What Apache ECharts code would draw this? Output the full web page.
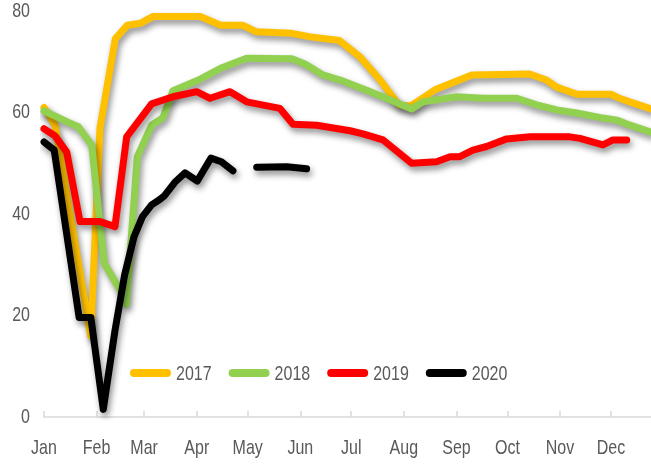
<!DOCTYPE html>
<html>
<head>
<meta charset="utf-8">
<script src="https://cdn.jsdelivr.net/npm/echarts@6/dist/echarts.min.js"></script>
<style>html,body{margin:0;padding:0;background:#fff}#c{width:651px;height:473px}</style>
</head>
<body>
<div id="c"></div>
<script>
// x = day of year (0 = Jan 1), y = value
const monthLabels = ['Jan','Feb','Mar','Apr','May','Jun','Jul','Aug','Sep','Oct','Nov','Dec'];
const monthStartDays = [0,31,59,90,120,151,181,212,243,273,304,334];
const yTicks = [0,20,40,60,80];

const s2017 = [[0,61],[6.5,57.5],[27.5,16],[33,57],[42,74.5],[49,77.2],[57,77.6],[64,78.9],[92,78.9],[104,77.2],[117,77.2],[125,75.9],[146,75.6],[157,74.9],[174,74.2],[186,71],[198,66.4],[209,61.5],[216,61.3],[231,64.6],[252,67.4],[286,67.6],[296,66.4],[302,65],[314,63.6],[334,63.6],[339,62.8],[345,62.1],[357.6,60.7]];
const s2018 = [[0,60.3],[13.4,58.2],[20.2,57.2],[28.1,53.6],[35.5,30.3],[44.8,25],[48.5,22.2],[55,51.3],[63.4,57.5],[70.1,59],[76,64.3],[91,66.4],[104,68.7],[119.4,70.7],[146,70.6],[154,69.5],[164.3,67.4],[174.4,66.4],[190,64.4],[203.8,62.5],[216.6,60.7],[223.3,62.1],[243.1,63.1],[258.6,62.8],[278.5,62.8],[290.2,61.5],[302,60.5],[313.8,59.9],[329.3,58.9],[337.4,58.5],[345.2,57.5],[357.6,56.1]];
const s2019 = [[0,56.8],[6.5,55.4],[13.4,52.2],[21.2,38.5],[33,38.5],[41.8,37.5],[48.7,55.2],[63.4,61.7],[76,63.1],[90,64.1],[97.8,62.8],[109.6,64.1],[119.4,62.1],[139,60.8],[146.7,57.7],[160.6,57.5],[180.3,56.4],[187.9,55.8],[199.7,54.6],[216.6,50],[231.3,50.3],[239.2,51.3],[245,51.3],[252.7,52.6],[260.8,53.3],[272.6,54.8],[286.3,55.2],[309.8,55.2],[315.7,54.9],[329.3,53.6],[335.2,54.6],[343.3,54.6]];
const s2020 = [[0,54.2],[6,52.6],[20.7,19.6],[27.6,19.6],[34.9,1.5],[41.8,17],[47.5,28],[53,35.5],[58,39.5],[63.4,41.8],[68,42.8],[71,43.6],[77.2,46.3],[83.1,48.1],[90.3,46.5],[98.3,51],[104.5,50.3],[111.3,48.5],[118,null],[125.3,49.2],[143,49.3],[154.7,48.9]];

const seriesNames = ['2017','2018','2019','2020'];
const seriesData = [s2017, s2018, s2019, s2020];
const seriesColors = ['#FFC000','#92D050','#FF0000','#000000'];

const FONT = "'Liberation Sans', Arial, sans-serif";

const chart = echarts.init(document.getElementById('c'), null, {renderer:'canvas'});
chart.setOption({
  animation: false,
  backgroundColor: '#fff',
  grid: {left: 44, right: 0, top: 11, bottom: 56, containLabel: false},
  legend: {
    data: seriesNames,
    left: 125, top: 360,
    itemWidth: 41, itemHeight: 8, itemGap: 17,
    icon: 'path://M4,0 H37 A4,4 0 0 1 37,8 H4 A4,4 0 0 1 4,0 Z',
    textStyle: {color: '#595959', fontSize: 16, fontFamily: FONT}
  },
  xAxis: {
    type: 'value', min: 0, max: 357.6,
    splitLine: {show: false},
    axisLine: {show: true, lineStyle: {color: '#d9d9d9', width: 1.5}},
    axisTick: {show: true, inside: true, length: 6, lineStyle: {color: '#d9d9d9', width: 1.5}, customValues: monthStartDays},
    axisLabel: {
      customValues: monthStartDays,
      color: '#595959', fontSize: 16, fontFamily: FONT, margin: 21,
      formatter: function (v) { const i = monthStartDays.indexOf(Math.round(v)); return i >= 0 ? monthLabels[i] : ''; }
    }
  },
  yAxis: {
    type: 'value', min: 0, max: 80, interval: 20,
    splitLine: {show: false},
    axisLine: {show: false}, axisTick: {show: false},
    axisLabel: {color: '#595959', fontSize: 16, fontFamily: FONT, margin: 14,
      formatter: function (v) { return yTicks.indexOf(v) >= 0 ? String(v) : ''; }}
  },
  series: seriesNames.map(function (n, i) {
    return {
      name: n, type: 'line', data: seriesData[i],
      showSymbol: false, symbol: 'none', connectNulls: false,
      color: seriesColors[i],
      lineStyle: {width: 7, color: seriesColors[i], cap: 'round', join: 'round',
        shadowColor: 'rgba(0,0,0,0.45)', shadowBlur: 6, shadowOffsetX: 2, shadowOffsetY: 4}
    };
  })
});

// Stretch text vertically to mimic the tall, condensed typeface of the original.
function stretchText() {
  const zr = chart.getZr();
  let changed = false;
  zr.storage.getRoots().forEach(function (root) {
    (function walk(el) {
      if (el.type === 'text' && el.scaleY !== 1.3) {
        el.scaleY = 1.3; el.originX = 0; el.originY = 0;
        el.markRedraw && el.markRedraw();
        changed = true;
      }
      if (el.eachChild) el.eachChild(walk);
    })(root);
  });
  if (changed) zr.refreshImmediately();
}
stretchText();
chart.on('finished', stretchText);
</script>
</body>
</html>
